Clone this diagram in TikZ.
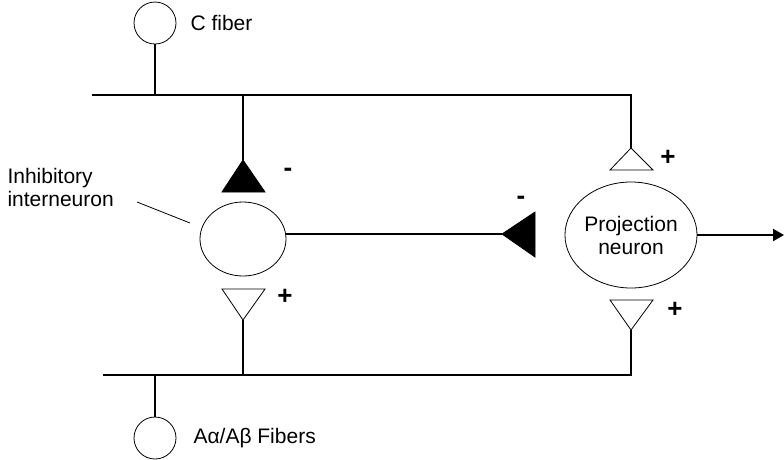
\documentclass[tikz,border=0pt]{standalone}
\usepackage{fontspec}
\setmainfont{Liberation Sans}
\usetikzlibrary{shapes.geometric,arrows.meta}

\begin{document}
\begin{tikzpicture}
[
x=1pt, y=-1pt,
every node/.style={font=\fontsize{21}{23}\selectfont},
fiber/.style={circle, draw, line width=0.8pt, minimum size=42pt, inner sep=0pt},
cell/.style={ellipse, draw, line width=0.8pt, inner sep=0pt},
sign/.style={font=\fontsize{26}{26}\bfseries, inner sep=0pt},
wire/.style={line width=2.2pt},
syn/.style={draw, line width=0.8pt, line join=miter}
]
\useasboundingbox (0,0) rectangle (784,459);

% fibers
\node[fiber] (cfib) at (155,23) {};
\node[anchor=west] (cname) at (187,23) {C fiber};
\node[fiber] (afib) at (155,438) {};
\node[anchor=west] (aname) at (190,438) {Aα/Aβ Fibers};

% cells
\node[cell, minimum width=86pt, minimum height=74pt] (inter) at (243,239) {};
\node[cell, minimum width=129pt, minimum height=106pt, align=center] (proj) at (631,235) {Projection\\neuron};
\node[anchor=north west, align=left] (intername) at (4,165) {Inhibitory\\interneuron};

% synapses
\draw[syn, fill=black] (222,192) -- (243,160) -- (265,192) -- cycle;
\draw[syn] (610,170) -- (631,148) -- (653,170) -- cycle;
\draw[syn] (222,289) -- (243,320) -- (265,289) -- cycle;
\draw[syn] (610,300) -- (631,330) -- (653,300) -- cycle;
\draw[syn, fill=black] (535,212) -- (502,234) -- (535,257) -- cycle;
\coordinate (inhin) at (243,160);
\coordinate (projin) at (631,148);
\coordinate (exin1) at (243,320);
\coordinate (exin2) at (631,330);
\coordinate (inhout) at (502,234);

% signs
\node[sign] (m1) at (288,172) {-};
\node[sign] (m2) at (521,200) {-};
\node[sign] (p1) at (668,158) {+};
\node[sign] (p2) at (285,297) {+};
\node[sign] (p3) at (675,310) {+};

% wiring
\coordinate (t1) at (92,95);
\coordinate (t2) at (155,95);
\coordinate (t3) at (243,95);
\coordinate (t4) at (631,95);
\coordinate (b1) at (103,375);
\coordinate (b2) at (155,375);
\coordinate (b3) at (243,375);
\coordinate (b4) at (631,375);
\coordinate (out) at (784,235);
\coordinate (tip) at (137,202);
\coordinate (tail) at (190,223);

\draw[wire] (t1) -- (t4) -- (projin);
\draw[wire] (cfib) -- (t2);
\draw[wire] (t3) -- (inhin);
\draw[wire] (b1) -- (b4) -- (exin2);
\draw[wire] (afib) -- (b2);
\draw[wire] (b3) -- (exin1);
\draw[wire] (inhout -| inter.east) -- (inhout);
\draw[wire, -{Triangle[length=11pt,width=12pt]}] (proj.east) -- (out);
\draw[line width=0.8pt] (tip) -- (tail);
\end{tikzpicture}
\end{document}
